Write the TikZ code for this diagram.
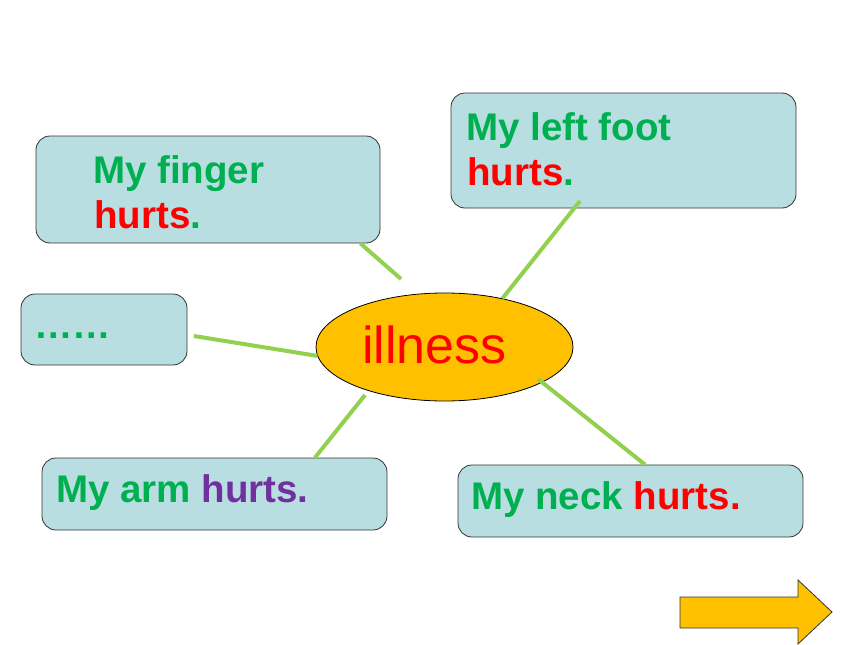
\documentclass[tikz,border=0pt]{standalone}
\usepackage{fontspec}
\setmainfont{Liberation Sans}
\usetikzlibrary{shapes.geometric}

\definecolor{boxfill}{HTML}{B8DEE1}
\definecolor{txtgreen}{HTML}{00B050}
\definecolor{txtred}{HTML}{FF0000}
\definecolor{txtpurple}{HTML}{7030A0}
\definecolor{ovalfill}{HTML}{FFC000}
\definecolor{linkgreen}{HTML}{92D050}

\begin{document}
\begin{tikzpicture}[x=1pt,y=-1pt,
    card/.style={draw=black!80,fill=boxfill,rounded corners=14pt,line width=0.8pt,inner sep=0pt},
    say/.style={anchor=base west,inner sep=0pt,text=txtgreen,
        font=\fontsize{38.5}{46}\bfseries\selectfont},
    link/.style={draw=linkgreen,line width=4pt}]
\useasboundingbox (0,0) rectangle (860,645);

% boxes
\node[card,minimum width=344pt,minimum height=107pt] (finger) at (208,189.5) {};
\node[card,minimum width=345pt,minimum height=115pt] (foot) at (623.5,150.5) {};
\node[card,minimum width=166pt,minimum height=71pt] (more) at (104,329.5) {};
\node[card,minimum width=345pt,minimum height=72pt] (arm) at (214.5,494) {};
\node[card,minimum width=345pt,minimum height=72pt] (neck) at (630.5,501) {};
\node[ellipse,draw=black,fill=ovalfill,line width=0.8pt,inner sep=0pt,
    minimum width=257pt,minimum height=108pt] (ill) at (444.5,347) {};

% texts
\node[say] (fingerA) at (93,183) {My finger};
\node[say] (fingerB) at (94,228) {\textcolor{txtred}{hurts}.};
\node[say] (footA) at (466,140) {My left foot};
\node[say] (footB) at (467,185) {\textcolor{txtred}{hurts}.};
\node[say] (moreA) at (34,338) {\char"2026\char"2026};
\node[say] (armA) at (56,502) {My arm \textcolor{txtpurple}{hurts.}};
\node[say] (neckA) at (471,509) {My neck \textcolor{txtred}{hurts.}};
\node[anchor=base west,inner sep=0pt,text=txtred,font=\fontsize{52}{60}\selectfont]
    (illA) at (362,363) {illness};

% links
\coordinate (fingerEnd) at (401,279);
\coordinate (footEnd) at (580,201);
\coordinate (moreEnd) at (194,336);
\coordinate (armEnd) at (365,395);
\coordinate (neckEnd) at (538,379);
\draw[link] ([xshift=-20pt]finger.south east) -- (fingerEnd);
\draw[link] (footEnd) -- (ill.40);
\draw[link] (moreEnd) -- (ill.184);
\draw[link] ([xshift=100.5pt]arm.north) -- (armEnd);
\draw[link] ([xshift=14.5pt]neck.north) -- (neckEnd);

% next arrow
\draw[draw=black!80,fill=ovalfill,line width=0.8pt]
    (680,597) -- (798,597) -- (798,580) -- (832,612) -- (798,644) -- (798,628) -- (680,628) -- cycle;
\end{tikzpicture}
\end{document}
